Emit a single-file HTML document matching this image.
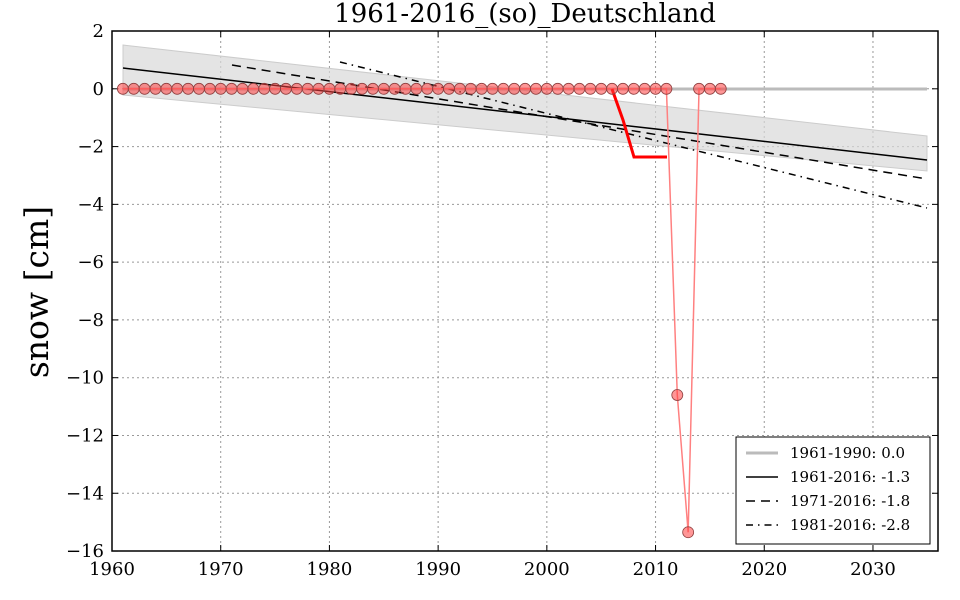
<!DOCTYPE html>
<html><head><meta charset="utf-8"><style>
body{margin:0;background:#fff;}
svg{display:block;font-family:"DejaVu Serif","Liberation Serif",serif;}
</style></head><body>
<svg id="s" width="960" height="600" xmlns="http://www.w3.org/2000/svg">
<rect width="960" height="600" fill="#fff"/>
<g id="grid" stroke="#999" stroke-dasharray="2,3" stroke-width="1"></g>
<polygon points="123,45 927,136 927,171 123,95" fill="#d9d9d9" fill-opacity="0.7" stroke="#ccc"/>
<line x1="123" y1="89" x2="927" y2="89" stroke="#bbb" stroke-width="3"/>
<line x1="123" y1="68" x2="927" y2="160" stroke="#000" stroke-width="1.5"/>
<line x1="232" y1="65" x2="927" y2="179" stroke="#000" stroke-width="1.5" stroke-dasharray="9,6"/>
<line x1="340" y1="62" x2="927" y2="208" stroke="#000" stroke-width="1.5" stroke-dasharray="7,5,1.5,5"/>
<polyline id="rl" fill="none" stroke="#ff8080" stroke-width="1.5"/>
<polyline points="612,89 623,120 634,157 667,157" fill="none" stroke="#ff0000" stroke-width="3"/>
<g id="pts"></g>
<rect x="112" y="31" width="826" height="520" fill="none" stroke="#000" stroke-width="1.5"/>
<g id="ticks" font-size="18" fill="#000"></g>
<text x="525" y="22" font-size="26" text-anchor="middle">1961-2016_(so)_Deutschland</text>
<text transform="translate(48,292) rotate(-90)" font-size="33" text-anchor="middle">snow [cm]</text>
<rect x="736" y="437" width="194" height="107" fill="#fff" stroke="#000"/>
<line x1="746" y1="453" x2="778" y2="453" stroke="#bbb" stroke-width="3"/>
<line x1="746" y1="477" x2="778" y2="477" stroke="#000" stroke-width="1.5"/>
<line x1="746" y1="501" x2="778" y2="501" stroke="#000" stroke-width="1.5" stroke-dasharray="9,6"/>
<line x1="746" y1="525" x2="778" y2="525" stroke="#000" stroke-width="1.5" stroke-dasharray="7,5,1.5,5"/>
<g font-size="15"><text x="790" y="458">1961-1990: 0.0</text><text x="790" y="482">1961-2016: -1.3</text><text x="790" y="506">1971-2016: -1.8</text><text x="790" y="530">1981-2016: -2.8</text></g>
</svg>
<script>
var ns="http://www.w3.org/2000/svg";
function X(y){return 112+(y-1960)*10.871;}
function Y(v){return 88.8-v*28.89;}
function el(p,t,a,txt){var e=document.createElementNS(ns,t);for(var k in a)e.setAttribute(k,a[k]);if(txt!=null)e.textContent=txt;document.getElementById(p).appendChild(e);}
for(var yr=1960;yr<=2030;yr+=10){var x=X(yr);if(yr>1960)el("grid","line",{x1:x,y1:31,x2:x,y2:551});
el("grid","line",{x1:x,y1:551,x2:x,y2:545,stroke:"#000","stroke-dasharray":"none"});el("grid","line",{x1:x,y1:31,x2:x,y2:37,stroke:"#000","stroke-dasharray":"none"});
el("ticks","text",{x:x,y:575,"text-anchor":"middle"},yr);}
for(var v=2;v>=-16;v-=2){var y=Y(v);if(v<2&&v>-16)el("grid","line",{x1:112,y1:y,x2:938,y2:y});
el("grid","line",{x1:112,y1:y,x2:118,y2:y,stroke:"#000","stroke-dasharray":"none"});el("grid","line",{x1:938,y1:y,x2:932,y2:y,stroke:"#000","stroke-dasharray":"none"});
el("ticks","text",{x:104,y:y+6,"text-anchor":"end"},v==0?"0":(v<0?"\u2212"+(-v):v));}
var pts=[];
for(var yr=1961;yr<=2016;yr++){var v=0;if(yr==2012)v=-10.6;if(yr==2013)v=-15.35;pts.push(X(yr)+","+Y(v));
el("pts","circle",{cx:X(yr),cy:Y(v),r:5.5,fill:"#ff4040","fill-opacity":0.55,stroke:"#904040","stroke-width":0.8});}
document.getElementById("rl").setAttribute("points",pts.join(" "));
</script>
</body></html>
